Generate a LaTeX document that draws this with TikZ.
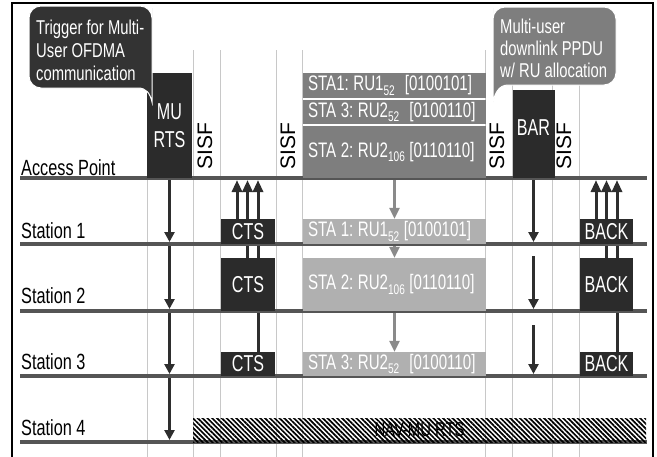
\documentclass[tikz,border=0pt]{standalone}
\usepackage{fontspec}
\setmainfont{Liberation Sans}[FakeStretch=0.74]
\newfontfamily\plainsf{Liberation Sans}
\newfontfamily\boxfont{Liberation Sans}[FakeStretch=0.72]
\newfontfamily\dboxfont{Liberation Sans}[FakeStretch=0.7]
\newcommand{\rusub}[1]{\raisebox{-4.5pt}{\fontsize{14}{14}\selectfont #1}}
\newcommand{\wsp}{\hspace{4.5pt}}
\newcommand{\wwsp}{\hspace{10pt}}
\usetikzlibrary{arrows.meta,patterns.meta,calc,backgrounds}
\definecolor{darkbox}{HTML}{2B2B2B}
\definecolor{calloutA}{HTML}{333333}
\definecolor{calloutB}{HTML}{7E7E7E}
\definecolor{midbox}{HTML}{7E7E7E}
\definecolor{lightbox}{HTML}{B0B0B0}
\definecolor{tlcol}{HTML}{555555}
\definecolor{gridcol}{HTML}{C8C8C8}
\definecolor{arrcol}{HTML}{2E2E2E}
\definecolor{grayarr}{HTML}{8A8A8A}
\begin{document}
\begin{tikzpicture}[x=1pt,y=-1pt,
 gridline/.style={draw=gridcol,line width=1pt},
 tline/.style={draw=tlcol,line width=4pt},
 dbox/.style={fill=darkbox,text=white,inner sep=0pt,font=\dboxfont\fontsize{23}{28}\selectfont},
 mbox/.style={fill=midbox,text=white,inner xsep=5pt,inner ysep=0pt,minimum width=183pt,text width=173pt,align=left,font=\boxfont\fontsize{21}{24}\selectfont},
 lbox/.style={mbox,fill=lightbox},
 sisf/.style={rotate=90,anchor=west,inner sep=0pt,font=\plainsf\fontsize{21}{24}\selectfont},
 stlabel/.style={anchor=base west,inner sep=0pt,font=\fontsize{22}{24}\selectfont},
 calltext/.style={anchor=north west,inner sep=0pt,align=left,text=white},
 darr/.style={draw=arrcol,line width=3pt,-{Triangle[width=10pt,length=10pt]}},
 uparr/.style={draw=arrcol,line width=3pt,-{Triangle[width=10pt,length=12pt]}},
 garr/.style={draw=grayarr,line width=3pt,-{Triangle[width=10pt,length=11pt]}},
 frame/.style={draw=black,line width=1.2pt}
]
\useasboundingbox (0,0) rectangle (657,456);

% timeline coordinates
\coordinate (apL) at (20,178);   \coordinate (apR) at (647,178);
\coordinate (s1L) at (20,244);   \coordinate (s1R) at (647,244);
\coordinate (s2L) at (20,311);   \coordinate (s2R) at (647,311);
\coordinate (s3L) at (20,376);   \coordinate (s3R) at (647,376);
\coordinate (s4L) at (20,442);   \coordinate (s4R) at (647,442);
\coordinate (apB) at (20,180);
\coordinate (s1T) at (20,242);
\coordinate (s2T) at (20,309);
\coordinate (s3T) at (20,374);
\coordinate (s4T) at (20,440);

% timelines
\draw[tline] (apL) -- (apR);
\draw[tline] (s1L) -- (s1R);
\draw[tline] (s2L) -- (s2R);
\draw[tline] (s3L) -- (s3R);
\draw[tline] (s4L) -- (s4R);

% labels
\node[stlabel] (aplab) at (21,175) {Access Point};
\node[stlabel] (st1lab) at (21,238) {Station 1};
\node[stlabel] (st2lab) at (21,303) {Station 2};
\node[stlabel] (st3lab) at (21,369) {Station 3};
\node[stlabel] (st4lab) at (21,435) {Station 4};

% access point frames
\node[dbox,align=center,minimum width=45pt,minimum height=105pt] (murts) at (169.5,125.5) {MU\\RTS};
\node[dbox,minimum width=42pt,minimum height=88pt,text depth=12pt] (bar) at (533.5,134) {BAR};
\node[mbox,minimum height=25pt] (ta1) at (394.5,85.5) {\mbox{STA1:\wsp RU1\rusub{52}\wwsp[0100101]}};
\node[mbox,minimum height=24pt] (ta3) at (394.5,112) {\mbox{STA\wsp 3:\wsp RU2\rusub{52}\wwsp[0100110]}};
\node[mbox,minimum height=52pt] (ta2) at (394.5,152) {\mbox{STA\wsp 2:\wsp RU2\rusub{106}\wsp[0110110]}};

% SISF labels
\node[sisf] (sisf1) at (205,170) {SISF};
\node[sisf] (sisf2) at (288,170) {SISF};
\node[sisf] (sisf3) at (497,170) {SISF};
\node[sisf] (sisf4) at (564,170) {SISF};

% station frames
\node[dbox,minimum width=54pt,minimum height=25pt] (cts1) at (248,231.5) {CTS};
\node[dbox,minimum width=54pt,minimum height=53pt] (cts2) at (248,284.5) {CTS};
\node[dbox,minimum width=54pt,minimum height=24pt] (cts3) at (248,364) {CTS};
\node[dbox,minimum width=53pt,minimum height=25pt] (back1) at (606.5,231.5) {BACK};
\node[dbox,minimum width=53pt,minimum height=53pt] (back2) at (606.5,284.5) {BACK};
\node[dbox,minimum width=53pt,minimum height=24pt] (back3) at (606.5,364) {BACK};
\node[lbox,minimum height=25pt] (s1d) at (394.5,231.5) {\mbox{STA\wsp 1:\wsp RU1\rusub{52}\wsp[0100101]}};
\node[lbox,minimum height=53pt] (s2d) at (394.5,284.5) {\mbox{STA\wsp 2:\wsp RU2\rusub{106}\wsp[0110110]}};
\node[lbox,minimum height=24pt] (s3d) at (394.5,364) {\mbox{STA\wsp 3:\wsp RU2\rusub{52}\wwsp[0100110]}};

% NAV
\node[inner sep=0pt,minimum width=453pt,minimum height=24pt,
      pattern={Lines[angle=-45,distance=3.4pt,line width=1.7pt]},
      font=\fontsize{20}{22}\selectfont] (nav) at (419.5,430) {NAV-MU RTS};

\begin{scope}[on background layer]
  \foreach \gx in {147,193,220,276,302,485,512,552,579}
    \draw[gridline] (\gx,50) -- (\gx,460);
  % MU-RTS to stations
  \draw[darr] (murts.south) -- (murts.south |- s1T);
  \draw[darr] (murts.south |- s1T) -- (murts.south |- s2T);
  \draw[darr] (murts.south |- s2T) -- (murts.south |- s3T);
  \draw[darr] (murts.south |- s3T) -- (murts.south |- s4T);
  % BAR to stations
  \coordinate (b2) at (533.5,256);
  \coordinate (b3) at (533.5,325);
  \draw[darr] (bar.south) -- (bar.south |- s1T);
  \draw[darr] (b2) -- (b2 |- s2T);
  \draw[darr] (b3) -- (b3 |- s3T);
  % data to stations
  \draw[garr] (ta2.south) -- (s1d.north);
  \draw[garr] (s1d.south) -- (s2d.north);
  \draw[garr] (s2d.south) -- (s3d.north);
  % CTS up
  \coordinate (u1) at ($(cts1.north)+(-11,0)$);
  \coordinate (u2) at ($(cts2.north)+(-0.5,0)$);
  \coordinate (u3) at ($(cts3.north)+(10,0)$);
  \draw[uparr] (u1) -- (u1 |- apB);
  \draw[uparr] (u2) -- (u2 |- apB);
  \draw[uparr] (u3) -- (u3 |- apB);
  % BACK up
  \coordinate (k1) at ($(back1.north)+(-10.5,0)$);
  \coordinate (k2) at ($(back2.north)+(0,0)$);
  \coordinate (k3) at ($(back3.north)+(10.5,0)$);
  \draw[uparr] (k1) -- (k1 |- apB);
  \draw[uparr] (k2) -- (k2 |- apB);
  \draw[uparr] (k3) -- (k3 |- apB);
\end{scope}

% callouts
\path[fill=calloutA,draw=white,line width=1pt]
  (29,47) [rounded corners=12pt] -- (29,6) -- (152,6) -- (152,20) [sharp corners] -- (152,102)
  .. controls (150,93) and (146,88) .. (138,88) [rounded corners=12pt] -- (29,88) -- (29,47) -- cycle;
\node[calltext,font=\fontsize{20}{23}\selectfont] (trig) at (36,20) {Trigger for Multi-\\User OFDMA\\communication};

\path[fill=calloutB,draw=white,line width=1pt]
  (616,46) [rounded corners=12pt] -- (616,7) -- (493,7) -- (493,20) [sharp corners] -- (493,102)
  .. controls (495,93) and (499,85) .. (508,85) [rounded corners=12pt] -- (616,85) -- (616,46) -- cycle;
\node[calltext,font=\fontsize{20}{22}\selectfont] (mudl) at (500,19) {Multi-user\\downlink PPDU\\w/ RU allocation};

% frame
\draw[frame] (12,462) -- (12,3) -- (653,3) -- (653,462);
\end{tikzpicture}
\end{document}
